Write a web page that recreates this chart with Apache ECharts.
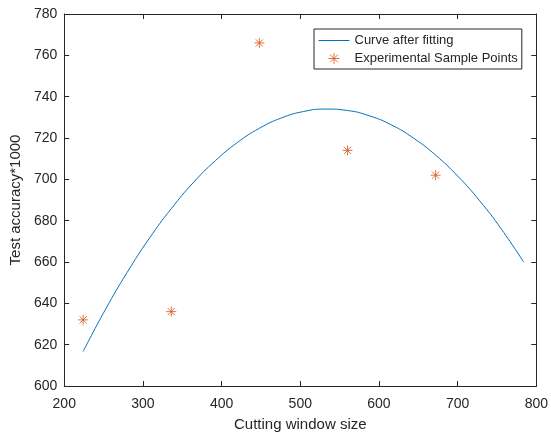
<!DOCTYPE html>
<html>
<head>
<meta charset="utf-8">
<script src="https://cdn.jsdelivr.net/npm/echarts@6/dist/echarts.min.js"></script>
<style>
  html, body { margin: 0; padding: 0; background: #fff; }
  #chart { width: 551px; height: 437px; }
</style>
</head>
<body>
<div id="chart"></div>
<script>
// fitted curve
const curveX = [224, 252, 280, 308, 336, 364, 392, 420, 448, 476, 504, 532, 560, 588, 616, 644, 672, 700, 728, 756, 784]
const curveY = [616.7, 636.8, 655.0, 671.4, 685.8, 698.4, 709.0, 717.8, 724.7, 729.7, 732.8, 734.0, 733.3, 730.7, 726.3, 719.9, 711.7, 701.6, 689.6, 675.7, 659.9]

// experimental samples
const sampleX = [224, 336, 448, 560, 672]
const sampleY = [632, 636, 766, 714, 702]

const xTicks = [200, 300, 400, 500, 600, 700, 800]
const yTicks = [600, 620, 640, 660, 680, 700, 720, 740, 760, 780]

const ink = '#262626'
const font = 'Liberation Sans'
const star = 'path://M5,0L5,10M0,5L10,5M1.4,1.4L8.6,8.6M1.4,8.6L8.6,1.4'

const chart = echarts.init(document.getElementById('chart'))

const baseAxis = {
  axisLine: { show: true, lineStyle: { color: ink, width: 1 } },
  axisTick: { show: true, inside: true, length: 5, lineStyle: { color: ink } },
  splitLine: { show: false },
  axisLabel: { color: ink, fontFamily: font, fontSize: 14 }
}

chart.setOption({
  animation: false,
  grid: { left: 62, right: 12, top: 14, bottom: 48 },
  legend: {
    left: 314,
    top: 29,
    orient: 'vertical',
    backgroundColor: '#fff',
    borderColor: ink,
    borderWidth: 1,
    padding: [5, 4, 4, 4],
    itemGap: 5,
    itemWidth: 31,
    itemHeight: 11,
    textStyle: { color: ink, fontFamily: font, fontSize: 13 },
    data: [
      {
        name: 'Curve after fitting',
        itemStyle: { color: 'rgba(0,0,0,0)', borderWidth: 0 },
        lineStyle: { color: '#0072BD', width: 1 }
      },
      {
        name: 'Experimental Sample Points',
        itemStyle: { color: 'rgba(0,0,0,0)', borderColor: '#D95319', borderWidth: 1 }
      }
    ]
  },
  xAxis: [
    Object.assign({}, baseAxis, {
      type: 'value', min: xTicks[0], max: xTicks[xTicks.length - 1], interval: 100,
      name: 'Cutting window size', nameLocation: 'middle', nameGap: 31,
      nameTextStyle: { color: ink, fontFamily: font, fontSize: 15 },
      axisLabel: Object.assign({}, baseAxis.axisLabel, { margin: 11 })
    }),
    Object.assign({}, baseAxis, {
      type: 'value', position: 'top', min: xTicks[0], max: xTicks[xTicks.length - 1], interval: 100,
      axisLabel: { show: false }
    })
  ],
  yAxis: [
    Object.assign({}, baseAxis, {
      type: 'value', min: yTicks[0], max: yTicks[yTicks.length - 1], interval: 20,
      name: 'Test accuracy*1000', nameLocation: 'middle', nameGap: 37,
      nameTextStyle: { color: ink, fontFamily: font, fontSize: 15 },
      axisLabel: Object.assign({}, baseAxis.axisLabel, { margin: 7 })
    }),
    Object.assign({}, baseAxis, {
      type: 'value', position: 'right', min: yTicks[0], max: yTicks[yTicks.length - 1], interval: 20,
      axisLabel: { show: false }
    })
  ],
  series: [
    {
      name: 'Curve after fitting',
      type: 'line',
      smooth: true,
      symbol: 'none',
      lineStyle: { color: '#0072BD', width: 1 },
      itemStyle: { color: '#0072BD' },
      data: curveX.map((x, i) => [x, curveY[i]])
    },
    {
      name: 'Experimental Sample Points',
      type: 'scatter',
      symbol: star,
      symbolSize: 10,
      itemStyle: { color: 'transparent', borderColor: '#D95319', borderWidth: 1 },
      data: sampleX.map((x, i) => [x, sampleY[i]])
    }
  ]
})
</script>
</body>
</html>
